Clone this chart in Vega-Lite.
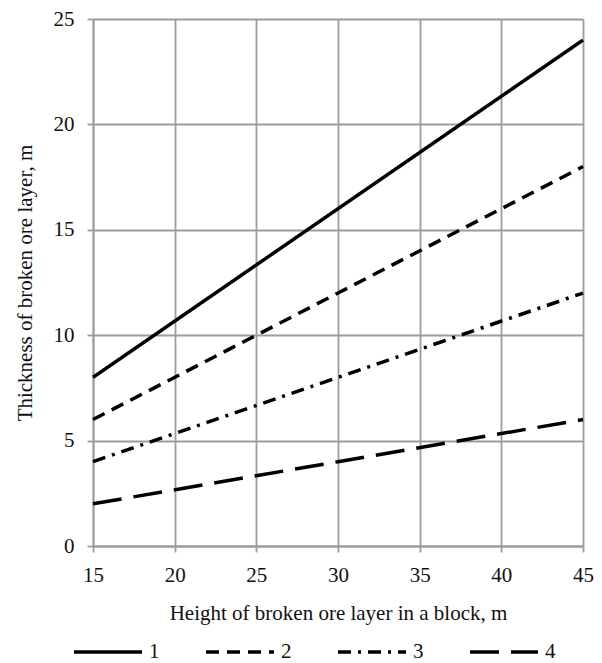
{
  "$schema": "https://vega.github.io/schema/vega-lite/v6.json",
  "autosize": {"type": "none"},
  "padding": {"left": 93, "top": 19, "right": 19, "bottom": 117},
  "width": 490,
  "height": 527,
  "background": "white",
  "config": {
    "view": {"stroke": null},
    "font": "Liberation Serif"
  },
  "data": {
    "values": [
      {"h": 15, "t": 8, "s": "1"},
      {"h": 30, "t": 16, "s": "1"},
      {"h": 45, "t": 24, "s": "1"},
      {"h": 15, "t": 6, "s": "2"},
      {"h": 30, "t": 12, "s": "2"},
      {"h": 45, "t": 18, "s": "2"},
      {"h": 15, "t": 4, "s": "3"},
      {"h": 30, "t": 8, "s": "3"},
      {"h": 45, "t": 12, "s": "3"},
      {"h": 15, "t": 2, "s": "4"},
      {"h": 30, "t": 4, "s": "4"},
      {"h": 45, "t": 6, "s": "4"}
    ]
  },
  "mark": {"type": "line", "color": "black", "strokeWidth": 3.5, "strokeCap": "butt"},
  "encoding": {
    "x": {
      "field": "h", "type": "quantitative",
      "scale": {"domain": [15, 45], "nice": false, "zero": false},
      "axis": {
        "title": "Height of broken ore layer in a block, m",
        "values": [15, 20, 25, 30, 35, 40, 45],
        "grid": true, "gridColor": "#9c9c9c", "gridWidth": 1.8, "gridOpacity": 1,
        "domainColor": "#9c9c9c", "domainWidth": 1.8,
        "tickColor": "#9c9c9c", "tickWidth": 1.8, "tickSize": 6,
        "labelFont": "Liberation Serif", "labelFontSize": 21, "labelColor": "#111",
        "labelPadding": 12, "labelFlush": false,
        "titleFont": "Liberation Serif", "titleFontSize": 21, "titleFontWeight": "normal",
        "titleColor": "#111", "titlePadding": 17
      }
    },
    "y": {
      "field": "t", "type": "quantitative",
      "scale": {"domain": [0, 25], "nice": false},
      "axis": {
        "title": "Thickness of broken ore layer, m",
        "values": [0, 5, 10, 15, 20, 25],
        "grid": true, "gridColor": "#9c9c9c", "gridWidth": 1.8, "gridOpacity": 1,
        "domainColor": "#9c9c9c", "domainWidth": 1.8,
        "tickColor": "#9c9c9c", "tickWidth": 1.8, "tickSize": 6,
        "labelFont": "Liberation Serif", "labelFontSize": 21, "labelColor": "#111",
        "labelPadding": 13, "labelFlush": false,
        "titleFont": "Liberation Serif", "titleFontSize": 21, "titleFontWeight": "normal",
        "titleColor": "#111", "titlePadding": 18
      }
    },
    "strokeDash": {
      "field": "s", "type": "nominal",
      "scale": {"domain": ["1", "2", "3", "4"], "range": [[1, 0], [13, 8], [13, 7, 3, 7], [29, 12]]},
      "legend": {
        "title": null,
        "orient": "none",
        "direction": "horizontal",
        "legendX": -21,
        "legendY": 597,
        "symbolType": "stroke",
        "symbolSize": 4624,
        "symbolStrokeWidth": 3.5,
        "symbolStrokeColor": "black",
        "labelFont": "Liberation Serif",
        "labelFontSize": 21,
        "labelColor": "#111",
        "labelOffset": 5,
        "columnPadding": 39
      }
    }
  }
}
